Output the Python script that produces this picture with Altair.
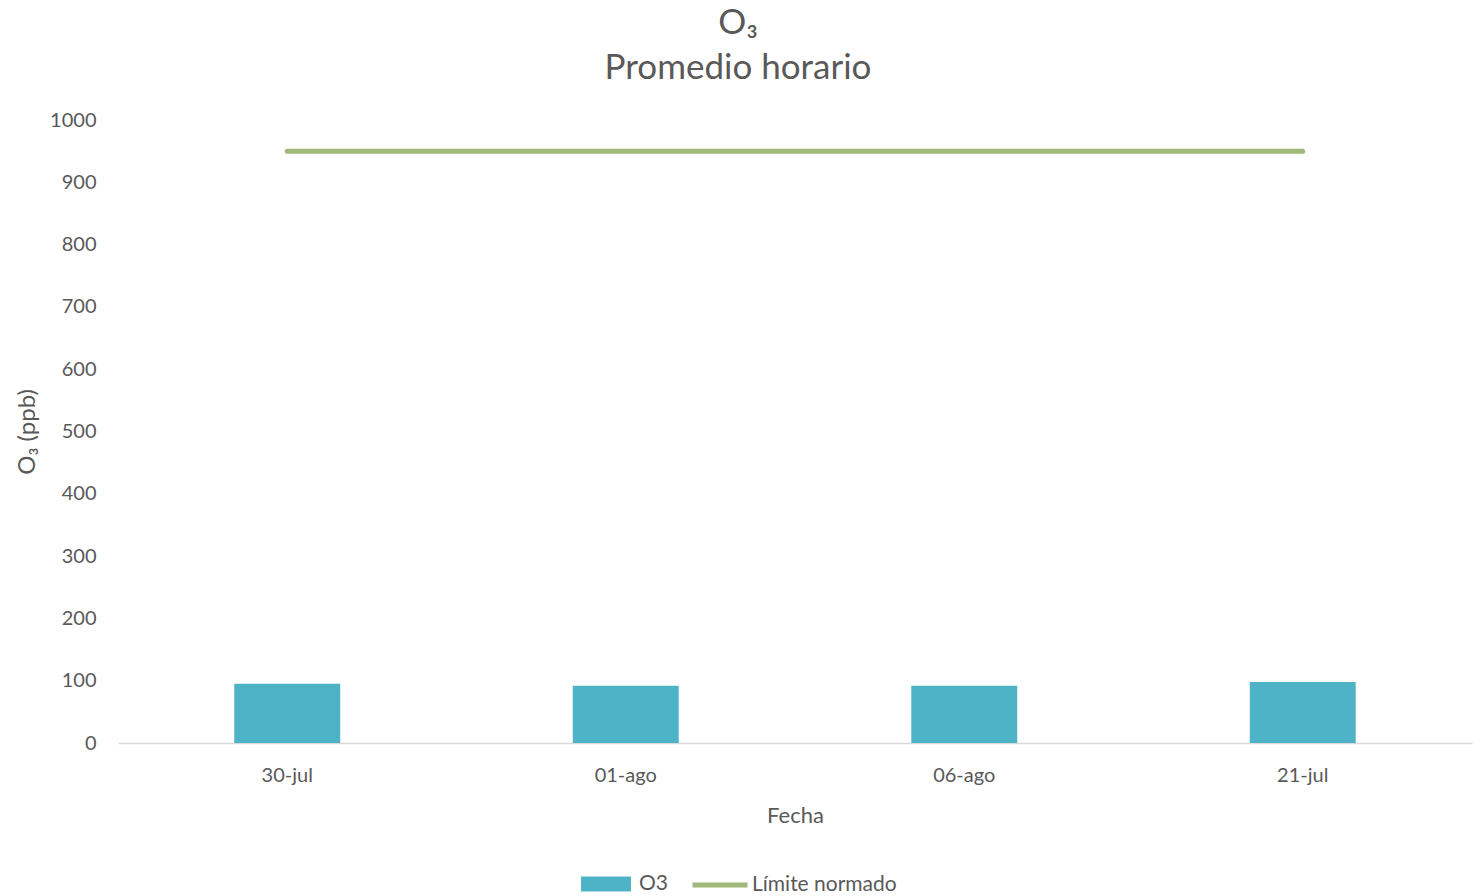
import altair as alt
import pandas as pd

fechas = ["30-jul", "01-ago", "06-ago", "21-jul"]
o3 = [95, 92, 92, 98]
limite = [950, 950, 950, 950]
serie_barras = "O3"
serie_linea = "Límite normado"
y_ticks = [0, 100, 200, 300, 400, 500, 600, 700, 800, 900, 1000]

df_bar = pd.DataFrame({"Fecha": fechas, "valor": o3, "serie": [serie_barras] * len(fechas)})
df_line = pd.DataFrame({"Fecha": fechas, "valor": limite, "serie": [serie_linea] * len(fechas)})

FONT = "Lato"
GREY = "#595959"
BLUE = "#4FB3C7"
GREEN = "#A0B97A"

pi = 0.687
x = alt.X(
    "Fecha:N",
    sort=fechas,
    scale=alt.Scale(paddingInner=pi, paddingOuter=pi / 2),
    axis=alt.Axis(
        title="Fecha", labelAngle=0, ticks=False, domainColor="#D9D9D9", domainWidth=1.5,
        labelFont=FONT, labelFontSize=20, labelColor=GREY, labelPadding=22,
        titleFont=FONT, titleFontSize=22, titleColor=GREY, titleFontWeight="normal", titlePadding=20,
    ),
)
y = alt.Y(
    "valor:Q",
    scale=alt.Scale(domain=[0, 1000]),
    axis=alt.Axis(
        values=y_ticks, format="d", title="O₃ (ppb)", grid=False, domain=False, ticks=False,
        labelFont=FONT, labelFontSize=20, labelColor=GREY, labelPadding=22,
        titleFont=FONT, titleFontSize=24, titleColor=GREY, titleFontWeight="normal", titlePadding=10,
    ),
)

bars = alt.Chart(df_bar).mark_bar().encode(
    x=x,
    y=y,
    fill=alt.Fill(
        "serie:N",
        scale=alt.Scale(domain=[serie_barras], range=[BLUE]),
        legend=alt.Legend(
            orient="none", legendX=462, legendY=738, title=None, padding=0,
            symbolType="M-1,-0.3H1V0.3H-1Z", symbolSize=2500, symbolOpacity=1,
            labelFont=FONT, labelFontSize=21, labelColor=GREY, labelOffset=7,
        ),
    ),
)

line = alt.Chart(df_line).mark_line(strokeWidth=5, strokeCap="round").encode(
    x=x,
    y=y,
    stroke=alt.Stroke(
        "serie:N",
        scale=alt.Scale(domain=[serie_linea], range=[GREEN]),
        legend=alt.Legend(
            orient="none", legendX=572, legendY=735, title=None, padding=0,
            symbolType="M-1,0H1", symbolSize=3025, symbolStrokeWidth=5,
            labelFont=FONT, labelFontSize=21, labelColor=GREY, labelOffset=2,
        ),
    ),
)

chart = (
    alt.layer(bars, line)
    .properties(
        width=1354,
        height=623,
        autosize=alt.AutoSizeParams(type="none"),
        padding={"left": 110, "top": 112, "right": 3, "bottom": 152},
        title=alt.TitleParams(
            text=["O₃", "Promedio horario"], font=FONT, fontSize=35, color=GREY,
            fontWeight="normal", anchor="middle", dx=-57, lineHeight=45, offset=24,
        ),
    )
    .configure_view(stroke=None)
)

chart.save("out.html", embed_options={"renderer": "svg", "actions": False})
